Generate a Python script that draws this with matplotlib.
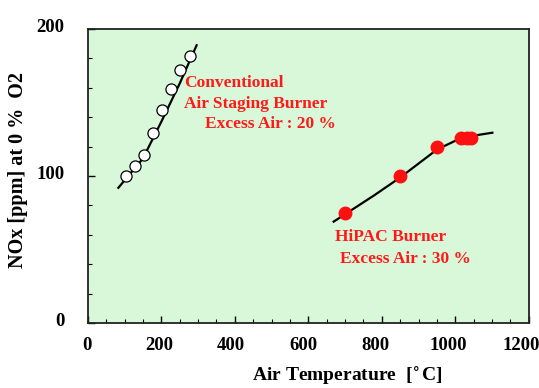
import matplotlib.pyplot as plt
import matplotlib.transforms as mtransforms
from matplotlib.ticker import MultipleLocator

# conventional air staging burner (open circles)
conv_temp = [104, 128, 153, 178, 203, 226, 251, 278]
conv_nox = [100, 107, 114, 129, 145, 159, 172, 182]
conv_line_temp = [83, 150, 200, 250, 296]
conv_line_nox = [92, 112, 137, 163, 189]

# HiPAC burner (red dots)
hipac_temp = [701, 849, 951, 1015, 1032, 1042]
hipac_nox = [75, 100, 120, 126, 126, 126]
hipac_line_temp = [669, 700, 780, 850, 950, 1000, 1050, 1101]
hipac_line_nox = [69, 74, 87, 99, 118, 124, 127.5, 129.5]

plt.rcParams['font.family'] = ['Liberation Serif', 'DejaVu Serif']
plt.rcParams['font.weight'] = 'bold'

fig = plt.figure(figsize=(5.39, 3.88), dpi=100)
ax = fig.add_axes([0.163, 0.1675, 0.818, 0.7575])
ax.set_facecolor('#d8f8d9')

ax.plot(conv_line_temp, conv_line_nox, color='black', lw=1.6, zorder=2)
ax.plot(conv_temp, conv_nox, 'o', ms=8, mfc='white', mec='black', mew=0.9, zorder=3)
ax.plot(hipac_line_temp, hipac_line_nox, color='black', lw=1.6, zorder=2)
ax.plot(hipac_temp, hipac_nox, 'o', ms=9, color='#ff1010', mec='#ff1010', zorder=3)

red = '#ff1a1a'
fs = 12.5
ax.text(261, 163, 'Conventional', color=red, fontsize=fs, fontweight='bold', va='center')
ax.text(261, 149, 'Air Staging Burner', color=red, fontsize=fs, fontweight='bold', va='center')
ax.text(318, 135.5, 'Excess Air : 20 %', color=red, fontsize=fs, fontweight='bold', va='center')
ax.text(672, 58.5, 'HiPAC Burner', color=red, fontsize=fs, fontweight='bold', va='center')
ax.text(686, 43.8, 'Excess Air : 30 %', color=red, fontsize=fs, fontweight='bold', va='center')

ax.set_xlim(0, 1200)
ax.set_ylim(0, 200)
ax.xaxis.set_major_locator(MultipleLocator(200))
ax.xaxis.set_minor_locator(MultipleLocator(50))
ax.yaxis.set_major_locator(MultipleLocator(100))
ax.yaxis.set_minor_locator(MultipleLocator(20))
ax.tick_params(which='both', direction='in', top=False, right=False, labelsize=13.5)
ax.tick_params(which='major', length=5, width=1.0)
ax.tick_params(which='minor', length=3, width=0.8)
ax.tick_params(axis='x', pad=10)
ax.tick_params(axis='y', pad=17)
for lbl in ax.get_xticklabels() + ax.get_yticklabels():
    lbl.set_fontweight('bold')
# y tick labels sit a little above their ticks, x labels a little left
yshift = mtransforms.ScaledTranslation(0, 4 / 100, fig.dpi_scale_trans)
for lbl in ax.get_yticklabels():
    lbl.set_transform(lbl.get_transform() + yshift)
for i, lbl in enumerate(ax.get_xticklabels()):
    xshift = mtransforms.ScaledTranslation(-min(i, 6) * 1.2 / 100, 0, fig.dpi_scale_trans)
    lbl.set_transform(lbl.get_transform() + xshift)
for s in ax.spines.values():
    s.set_linewidth(1.3)
    s.set_color('#222222')

ax.set_xlabel('Air Temperature  [$^{\\circ}$C]', fontsize=14, fontweight='bold')
ax.xaxis.set_label_coords(0.587, -0.14)
ax.set_ylabel('NOx [ppm] at 0 %  O2', fontsize=14.5, fontweight='bold')
ax.yaxis.set_label_coords(-0.136, 0.52)

plt.savefig('out.png', dpi=100)
